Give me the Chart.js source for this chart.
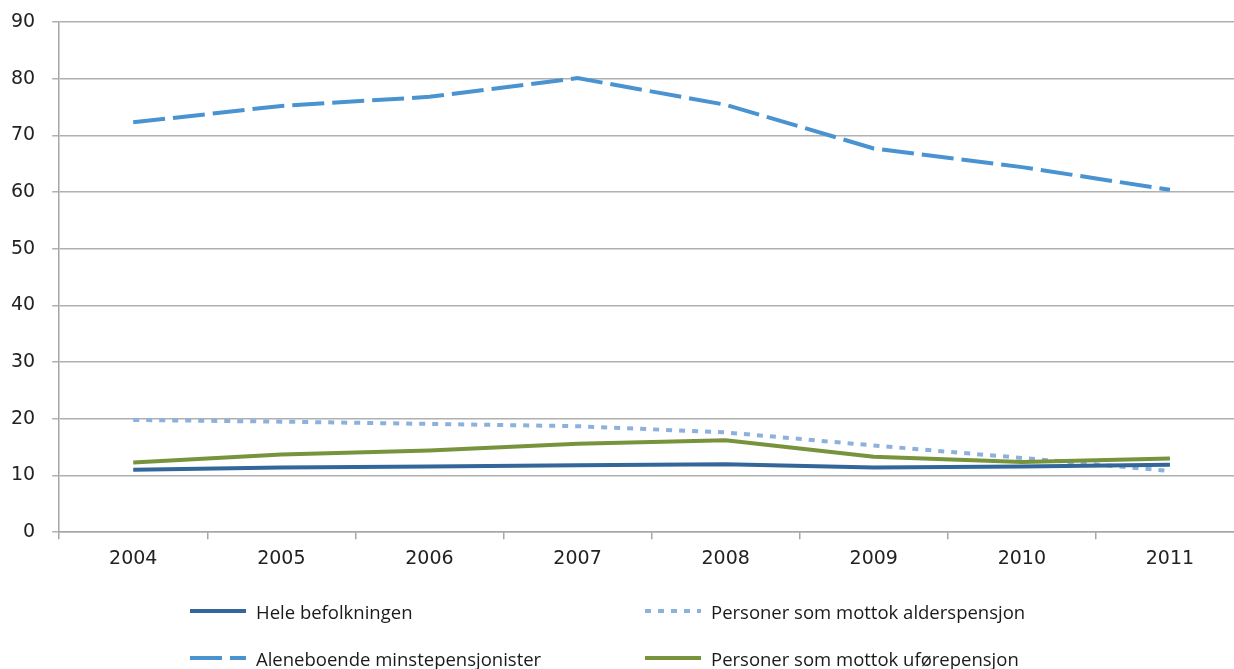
<!DOCTYPE html>
<html>
<head>
<meta charset="utf-8">
<script src="https://cdn.jsdelivr.net/npm/chart.js@4/dist/chart.umd.min.js"></script>
<style>
  html, body { margin: 0; padding: 0; background: #fff; overflow: hidden; }
  #wrap { position: relative; width: 1234px; height: 669px; overflow: hidden; }
  #chart { position: absolute; left: 0; top: 0; }
  #legend { position: absolute; left: 0; top: 0; width: 1234px; height: 669px; pointer-events: none;
            font-family: "Open Sans", sans-serif; font-size: 18.5px; color: #1a1a1a; }
  .item { position: absolute; display: flex; align-items: center; white-space: nowrap; }
  .item svg { margin-right: 10px; }
</style>
</head>
<body>
<div id="wrap">
  <canvas id="chart" width="1244" height="669"></canvas>
  <div id="legend"></div>
</div>
<script>
var years = ["2004", "2005", "2006", "2007", "2008", "2009", "2010", "2011"];

var seriesNames = [
  "Hele befolkningen",
  "Aleneboende minstepensjonister",
  "Personer som mottok alderspensjon",
  "Personer som mottok uførepensjon"
];

var heleBefolkningen = [11.0, 11.4, 11.6, 11.8, 12.0, 11.4, 11.6, 11.9];
var aleneboende      = [72.3, 75.2, 76.8, 80.1, 75.4, 67.7, 64.4, 60.4];
var alderspensjon    = [19.8, 19.5, 19.1, 18.7, 17.6, 15.3, 13.1, 10.8];
var uforepensjon     = [12.3, 13.7, 14.4, 15.6, 16.2, 13.3, 12.4, 13.0];

var yTicks = [0, 10, 20, 30, 40, 50, 60, 70, 80, 90];

var colors = ["#336699", "#4A93D1", "#8CB1DC", "#77933C"];
var dashes = [[], [32, 8], [6, 7], []];

var ds = [heleBefolkningen, aleneboende, alderspensjon, uforepensjon].map(function (vals, i) {
  return {
    label: seriesNames[i],
    data: vals,
    borderColor: colors[i],
    backgroundColor: colors[i],
    borderWidth: 4,
    borderDash: dashes[i],
    pointRadius: 0,
    tension: 0,
    fill: false
  };
});
// draw order: alderspensjon under the solid lines
ds[2].order = 3; ds[0].order = 1; ds[3].order = 2; ds[1].order = 0;

var tickFont = { family: "DejaVu Sans", size: 19 };

var chart = new Chart(document.getElementById("chart"), {
  type: "line",
  data: { labels: years, datasets: ds },
  options: {
    responsive: false,
    animation: false,
    layout: { padding: { top: 22, left: -6, right: 0, bottom: 91 } },
    plugins: { legend: { display: false }, tooltip: { enabled: false } },
    scales: {
      x: {
        offset: true,
        grid: { offset: true, drawOnChartArea: false, color: "#a6a6a6", tickLength: 7, lineWidth: 1.5 },
        border: { color: "#a6a6a6", width: 1.5 },
        ticks: { font: tickFont, color: "#222", padding: 8, maxRotation: 0 }
      },
      y: {
        min: 0, max: 90,
        afterBuildTicks: function (axis) { axis.ticks = yTicks.map(function (v) { return { value: v }; }); },
        afterFit: function (axis) { axis.paddingTop = 0; },
        grid: { color: "#b0b0b0", tickLength: 7, lineWidth: 1.5 },
        border: { color: "#a6a6a6", width: 1.5 },
        ticks: { font: tickFont, color: "#222", padding: 17 }
      }
    }
  }
});

// legend, 2 x 2 grid below the chart
var legendPos = [[190, 611], [190, 658], [645, 611], [645, 658]];
var legend = document.getElementById("legend");
chart.data.datasets.forEach(function (d, i) {
  var div = document.createElement("div");
  div.className = "item";
  div.style.left = legendPos[i][0] + "px";
  div.style.top = (legendPos[i][1] - 13) + "px";
  var dash = d.borderDash.length ? ' stroke-dasharray="' + d.borderDash.join(",") + '"' : "";
  div.innerHTML = '<svg width="56" height="26"><line x1="0" y1="13" x2="56" y2="13" stroke="' +
    d.borderColor + '" stroke-width="4"' + dash + '/></svg><span>' + d.label + '</span>';
  legend.appendChild(div);
});
</script>
</body>
</html>
